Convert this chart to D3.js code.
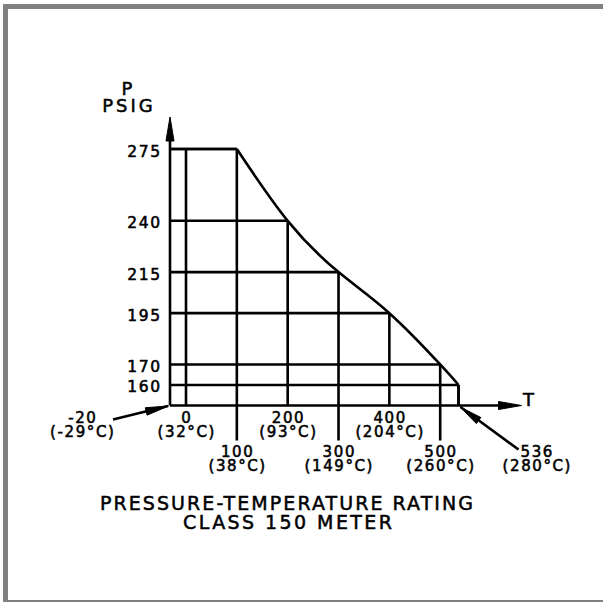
<!DOCTYPE html>
<html>
<head>
<meta charset="utf-8">
<script src="https://cdn.jsdelivr.net/npm/d3@7/dist/d3.min.js"></script>
<style>
  html, body { margin: 0; padding: 0; background: #fff; }
  svg { display: block; }
  text { font-family: "DejaVu Sans", sans-serif; fill: #000; }
</style>
</head>
<body>
<script>
// ---- data ----
const tempF = [-20, 0, 100, 200, 300, 400, 500, 536];
const tempFLabels = ["-20", "0", "100", "200", "300", "400", "500", "536"];
const tempCLabels = ["(-29°C)", "(32°C)", "(38°C)", "(93°C)", "(149°C)", "(204°C)", "(260°C)", "(280°C)"];
const lowerRow = [100, 300, 500, 536];          // labels placed on the second row
const ratingT = [-20, 100, 200, 300, 400, 500, 536];
const ratingP = [275, 275, 240, 215, 195, 170, 160];
const pTicks = [275, 240, 215, 195, 170, 160];
const pTickLabels = ["275", "240", "215", "195", "170", "160"];
const titleLines = ["PRESSURE-TEMPERATURE RATING", "CLASS 150 METER"];

// ---- layout ----
const W = 603, H = 602;
const svg = d3.select("body").append("svg").attr("width", W).attr("height", H);

// frame
svg.append("rect").attr("x", 3).attr("y", 4).attr("width", W - 3).attr("height", H - 4).attr("fill", "#808080");
svg.append("rect").attr("x", 8).attr("y", 9).attr("width", W - 8).attr("height", H - 11).attr("fill", "#fff");

const x = d3.scaleLinear().domain([-20, 0, 536]).range([170, 186, 458.5]);
const y = d3.scaleLinear().domain([150, 275]).range([405.5, 149]);
const pAt = d3.scaleLinear().domain(ratingT).range(ratingP);

const LW = 2.6;
const g = svg.append("g").attr("fill", "none").attr("stroke", "#000").attr("stroke-width", LW);

// horizontal grid lines
pTicks.forEach(p => {
  const tEnd = ratingT[ratingP.lastIndexOf(p)];
  g.append("line").attr("x1", x(-20)).attr("x2", x(tEnd)).attr("y1", y(p)).attr("y2", y(p));
});

// vertical grid lines
tempF.filter(t => t > -20).forEach(t => {
  const bottom = (lowerRow.includes(t) && t !== 536) ? y(150) + 35 : y(150);
  g.append("line").attr("x1", x(t)).attr("x2", x(t)).attr("y1", bottom).attr("y2", y(pAt(t)));
});

// rating curve
const curvePts = ratingT.map((t, i) => [x(t), y(ratingP[i])]);
g.append("path")
  .attr("d", d3.line().curve(d3.curveLinear)(curvePts.slice(0, 2)))
  .attr("stroke-linejoin", "round");
g.append("path")
  .attr("d", d3.line().curve(d3.curveNatural)(curvePts.slice(1)))
  .attr("stroke-linejoin", "round");
g.append("line").attr("x1", x(536)).attr("x2", x(536)).attr("y1", y(160)).attr("y2", y(150));

// axes
const x0 = x(-20), y0 = y(150);
const xTip = x(536) + 63, yTip = y(275) - 32;
g.append("line").attr("x1", x0).attr("x2", xTip - 10).attr("y1", y0).attr("y2", y0);
g.append("line").attr("x1", x0).attr("x2", x0).attr("y1", y0).attr("y2", yTip + 10);

function arrowHead(tx, ty, fx, fy, len, half) {
  const dx = tx - fx, dy = ty - fy, L = Math.hypot(dx, dy);
  const ux = dx / L, uy = dy / L;
  const bx = tx - ux * len, by = ty - uy * len;
  const px = -uy, py = ux;
  svg.append("path")
    .attr("d", `M${tx},${ty}L${bx + px * half},${by + py * half}L${bx - px * half},${by - py * half}Z`)
    .attr("fill", "#000").attr("stroke", "#000").attr("stroke-width", 1).attr("stroke-linejoin", "round");
}
arrowHead(xTip, y0, x0, y0, 23, 4);
arrowHead(x0, yTip, x0, y0, 24, 4);

// leader arrows for -20 and 536
const lead1 = [x0 - 57, y0 + 14];
g.append("line").attr("x1", lead1[0]).attr("y1", lead1[1]).attr("x2", x0 - 2).attr("y2", y0 + 0.5);
arrowHead(x0 - 1.5, y0 + 0.5, lead1[0], lead1[1], 23, 3.8);
const lead2 = [x(536) + 60, y0 + 44];
g.append("line").attr("x1", lead2[0]).attr("y1", lead2[1]).attr("x2", x(536) + 2).attr("y2", y0 + 1.5);
arrowHead(x(536) + 1.5, y0 + 1.5, lead2[0], lead2[1], 23, 3.8);

// text helpers
const LS = 1.6;
function label(tx, ty, str, size, anchor, ls) {
  const l = ls === undefined ? LS : ls;
  let xx = tx;
  if (anchor === "middle") xx = tx + l / 2;
  if (anchor === "end") xx = tx + l;
  return svg.append("text")
    .attr("x", xx).attr("y", ty)
    .attr("text-anchor", anchor)
    .attr("font-size", size)
    .attr("letter-spacing", l)
    .attr("stroke", "#000").attr("stroke-width", 0.55)
    .text(str);
}

// y tick labels
pTicks.forEach((p, i) => label(160, y(p) + 7.5, pTickLabels[i], 15.5, "end"));

// x tick labels (two lines in one text element)
tempF.forEach((t, i) => {
  let cx = x(t);
  if (t === -20) cx = x(t) - 88;
  if (t === 536) cx = x(t) + 78;
  const base = lowerRow.includes(t) ? 456.5 : 422.5;
  const txt = svg.append("text")
    .attr("text-anchor", "middle")
    .attr("font-size", 15)
    .attr("letter-spacing", LS)
    .attr("stroke", "#000").attr("stroke-width", 0.55);
  txt.append("tspan").attr("x", cx + LS / 2).attr("y", base).text(tempFLabels[i]);
  txt.append("tspan").attr("x", cx + LS / 2).attr("y", base + 14).text(tempCLabels[i]);
});

// axis titles
const pt = svg.append("text").attr("text-anchor", "middle").attr("font-size", 18)
  .attr("stroke", "#000").attr("stroke-width", 0.5);
pt.append("tspan").attr("x", 127).attr("y", 95).text("P");
pt.append("tspan").attr("x", 129).attr("y", 112).attr("letter-spacing", 3).text("PSIG");
label(523, 406, "T", 18, "start", 0);

// chart title
svg.append("text").attr("x", 286.5).attr("y", 510).attr("text-anchor", "middle")
  .attr("font-size", 19).attr("textLength", 373).attr("lengthAdjust", "spacing")
  .attr("stroke", "#000").attr("stroke-width", 0.5).text(titleLines[0]);
svg.append("text").attr("x", 287.5).attr("y", 529).attr("text-anchor", "middle")
  .attr("font-size", 19).attr("textLength", 209).attr("lengthAdjust", "spacing")
  .attr("stroke", "#000").attr("stroke-width", 0.5).text(titleLines[1]);
</script>
</body>
</html>
